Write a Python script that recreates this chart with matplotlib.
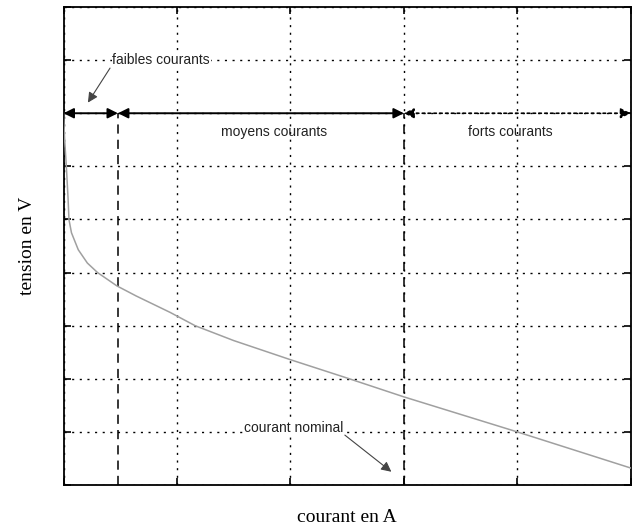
import matplotlib
matplotlib.use("Agg")
import matplotlib.pyplot as plt

# courbe tension / courant
courant = [0, 0.01, 0.025, 0.04, 0.048, 0.07, 0.13, 0.21, 0.30, 0.47, 0.64,
           0.94, 1.16, 1.5, 2.0, 2.52, 3.0, 3.5, 4.0, 4.5, 5.0]
tension = [7.0, 6.5, 6.0, 5.4, 5.0, 4.75, 4.43, 4.18, 4.0, 3.75, 3.56,
           3.25, 3.0, 2.72, 2.36, 2.0, 1.66, 1.33, 1.0, 0.66, 0.32]

# limites des zones
x_faible = 0.48
x_fort = 3.0
y_zones = 7.0
x_max = 5
y_max = 9

fig = plt.figure(figsize=(6.32, 5.32), dpi=100)
ax = fig.add_axes([0.1005, 0.0883, 0.8975, 0.8985])

ax.set_xlim(0, x_max)
ax.set_ylim(0, y_max)
ax.set_xticks(range(x_max + 1))
ax.set_yticks(range(y_max + 1))
ax.tick_params(direction='in', length=5, width=1.2, top=True, right=True,
               labelbottom=False, labelleft=False)
ax.grid(True, color='black', linestyle=(0, (1.5, 4)), linewidth=1)
for s in ax.spines.values():
    s.set_linewidth(1.3)

ax.plot(courant, tension, color='#a0a0a0', linewidth=1.1, zorder=3,
        solid_joinstyle='round')

# separations verticales
ax.plot([x_faible, x_faible], [0, y_zones], color='black', linestyle=(0, (6, 4)), linewidth=1.1)
ax.plot([x_fort, x_fort], [0, y_zones], color='black', linestyle=(0, (6, 4)), linewidth=1.1)

# fleches des zones
ax.annotate('', xy=(0, y_zones), xytext=(x_faible, y_zones),
            arrowprops=dict(arrowstyle='<|-|>', color='black', lw=1.4, mutation_scale=15,
                            shrinkA=0, shrinkB=0))
ax.annotate('', xy=(x_faible, y_zones), xytext=(x_fort, y_zones),
            arrowprops=dict(arrowstyle='<|-|>', color='black', lw=1.4, mutation_scale=15,
                            shrinkA=0, shrinkB=0))
ax.annotate('', xy=(x_fort, y_zones), xytext=(x_max, y_zones),
            arrowprops=dict(arrowstyle='<|-|>', color='black', lw=1.2, mutation_scale=15,
                            linestyle=(0, (1.5, 2)), shrinkA=0, shrinkB=0))

txt = dict(fontsize=10, family='Liberation Sans', color='#222222', ha='center', va='center')
ax.text(0.86, 8.0, 'faibles courants', bbox=dict(fc='white', ec='none', pad=0.5), zorder=4, **txt)
ax.text(1.855, 6.64, 'moyens courants', **txt)
ax.text(3.94, 6.64, 'forts courants', **txt)
ax.text(2.03, 1.07, 'courant nominal', bbox=dict(fc='white', ec='none', pad=0.5), zorder=4, **txt)

ax.annotate('', xy=(0.215, 7.2), xytext=(0.41, 7.85),
            arrowprops=dict(arrowstyle='-|>', color='#444444', lw=0.8, mutation_scale=15,
                            shrinkA=0, shrinkB=0))
ax.annotate('', xy=(2.89, 0.25), xytext=(2.48, 0.94),
            arrowprops=dict(arrowstyle='-|>', color='#444444', lw=0.8, mutation_scale=15,
                            shrinkA=0, shrinkB=0))

ax.set_xlabel('courant en A', family='Liberation Serif', fontsize=14, labelpad=17)
ax.set_ylabel('tension en V', family='Liberation Serif', fontsize=14, labelpad=20)

fig.savefig('out.png', dpi=100)
